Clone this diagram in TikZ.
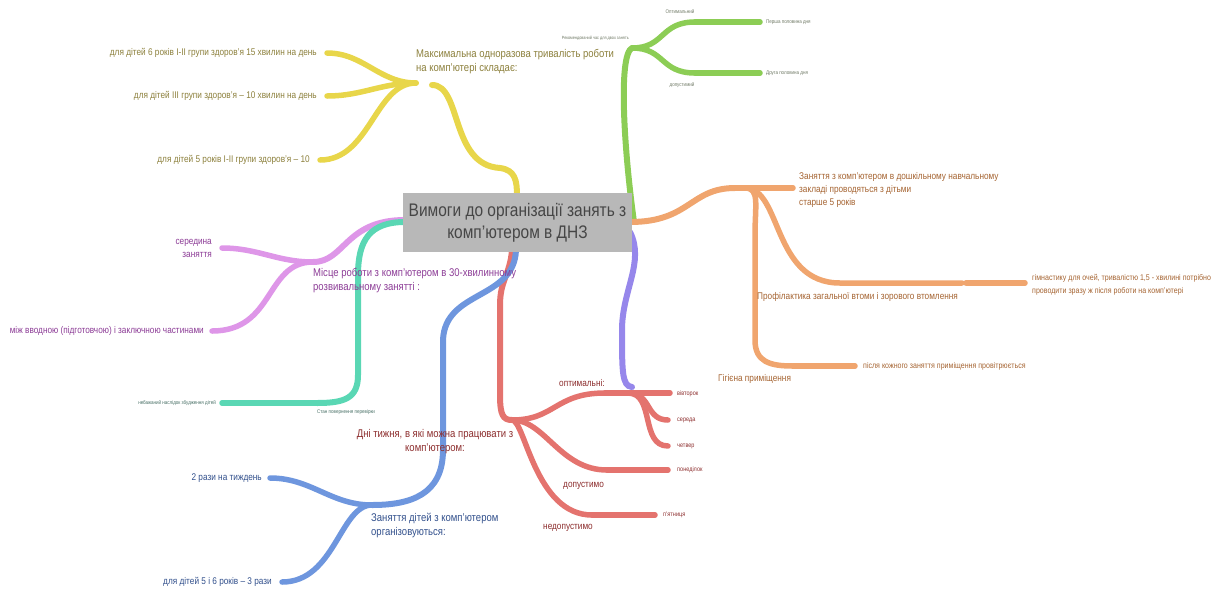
\documentclass[tikz,border=0pt]{standalone}
\usepackage{fontspec}
\setmainfont[FakeStretch=0.85]{Liberation Sans}
\usetikzlibrary{backgrounds}
\definecolor{yline}{RGB}{232,214,74}
\definecolor{ytext}{RGB}{140,128,60}
\definecolor{gline}{RGB}{140,205,85}
\definecolor{gtext}{RGB}{110,120,100}
\definecolor{oline}{RGB}{240,165,110}
\definecolor{otext}{RGB}{165,100,50}
\definecolor{vline}{RGB}{150,135,235}
\definecolor{pline}{RGB}{222,150,232}
\definecolor{ptext}{RGB}{140,60,150}
\definecolor{tline}{RGB}{90,215,180}
\definecolor{ttext}{RGB}{70,110,100}
\definecolor{rline}{RGB}{228,115,110}
\definecolor{rtext}{RGB}{140,45,45}
\definecolor{bline}{RGB}{110,150,222}
\definecolor{btext}{RGB}{50,80,140}
\definecolor{rootfill}{RGB}{184,184,184}
\definecolor{roottext}{RGB}{70,70,70}
\begin{document}
\begin{tikzpicture}[x=1pt,y=-1pt,
    mainbranch/.style={line width=6pt,line cap=round},
    subbranch/.style={line width=5.5pt,line cap=round},
    rootbox/.style={fill=rootfill,text=roottext,minimum width=229pt,minimum height=59pt,
      align=center,font=\fontsize{18.2}{22}\selectfont,inner sep=2pt},
    label/.style={font=\fontsize{11.2}{14}\selectfont,inner sep=1pt},
    leaf/.style={font=\fontsize{9.7}{13}\selectfont,inner sep=1pt},
    small/.style={font=\fontsize{8.3}{13}\selectfont,inner sep=1pt},
    dayleaf/.style={font=\fontsize{6.5}{8}\selectfont,inner sep=1pt},
    tiny/.style={font=\fontsize{5.3}{6}\selectfont,inner sep=1pt}]
  \useasboundingbox (0,0) rectangle (1222,595);

  \node[rootbox] (root) at (517.5,222.5) {Вимоги до організації занять з\\комп'ютером в ДНЗ};

  % hubs and leaf ends
  \coordinate (ytop) at (517,196);
  \coordinate (yhub) at (432,85);
  \coordinate (ysplit) at (416,83);
  \coordinate (y1) at (327,53);
  \coordinate (y2) at (327,96);
  \coordinate (y3) at (320,160);

  \coordinate (gstart) at (634,222);
  \coordinate (ghub) at (632,48);
  \coordinate (gopt) at (695,22);
  \coordinate (gadm) at (695,73);
  \coordinate (g1) at (760,22);
  \coordinate (g2) at (760,73);

  \coordinate (ostart) at (630,222);
  \coordinate (ohub) at (735,188);
  \coordinate (ohub2) at (745,188);
  \coordinate (o1) at (793,188);
  \coordinate (oprof) at (962,283);
  \coordinate (oprof2) at (966,283);
  \coordinate (ogym) at (1025,283);
  \coordinate (ohyg) at (793,366);
  \coordinate (ohyge) at (855,366);

  \coordinate (vstart) at (630,232);
  \coordinate (vend) at (632,387);

  \coordinate (pstart) at (405,220);
  \coordinate (phub) at (313,262);
  \coordinate (p1) at (222,248);
  \coordinate (p2) at (212,331);

  \coordinate (tstart) at (405,222);
  \coordinate (thub) at (317,403);
  \coordinate (tend) at (222,403);

  \coordinate (rstart) at (512,250);
  \coordinate (rhub) at (512,420);
  \coordinate (ropt) at (605,393);
  \coordinate (rsplit) at (628,393);
  \coordinate (rtue) at (670,393);
  \coordinate (rwed) at (668,420);
  \coordinate (rthu) at (668,446);
  \coordinate (rmon) at (607,470);
  \coordinate (rmone) at (668,470);
  \coordinate (rfri) at (592,515);
  \coordinate (rfrie) at (655,515);

  \coordinate (bstart) at (516,250);
  \coordinate (bhub) at (372,505);
  \coordinate (b1) at (270,478);
  \coordinate (b2) at (282,582);

  \begin{pgfonlayer}{background}
    % yellow
    \draw[mainbranch,yline] (yhub) .. controls (462,85) and (450,165) .. (500,168)
      .. controls (515,170) and (517,180) .. (ytop);
    \draw[subbranch,yline] (ysplit) to[out=180,in=0] (y1);
    \draw[subbranch,yline] (ysplit) to[out=180,in=0] (y2);
    \draw[subbranch,yline] (ysplit) .. controls (375,83) and (370,160) .. (y3);
    % green
    \draw[mainbranch,gline] (gstart) .. controls (624,150) and (618,55) .. (ghub);
    \draw[subbranch,gline] (ghub) .. controls (665,48) and (660,22) .. (gopt);
    \draw[subbranch,gline] (ghub) .. controls (665,48) and (660,73) .. (gadm);
    \draw[subbranch,gline] (gopt) -- (g1);
    \draw[subbranch,gline] (gadm) -- (g2);
    % orange
    \draw[mainbranch,oline] (ostart) .. controls (690,222) and (690,188) .. (ohub);
    \draw[subbranch,oline] (ohub) -- (o1);
    \draw[subbranch,oline] (ohub2) .. controls (782,188) and (772,283) .. (840,283) -- (oprof);
    \draw[subbranch,oline] (oprof2) -- (ogym);
    \draw[subbranch,oline] (ohub2) .. controls (760,188) and (755,205) .. (755,235) -- (755,340)
      .. controls (755,362) and (770,366) .. (ohyg);
    \draw[subbranch,oline] (ohyg) -- (ohyge);
    % violet
    \draw[mainbranch,vline] (vstart) .. controls (645,262) and (622,290) .. (622,330)
      .. controls (622,372) and (622,386) .. (vend);
    % pink
    \draw[mainbranch,pline] (phub) .. controls (345,262) and (345,220) .. (pstart);
    \draw[subbranch,pline] (phub) to[out=180,in=0] (p1);
    \draw[subbranch,pline] (phub) .. controls (265,262) and (275,331) .. (p2);
    % teal
    \draw[mainbranch,tline] (tstart) .. controls (370,222) and (358,240) .. (358,275) -- (358,375)
      .. controls (358,398) and (345,403) .. (thub);
    \draw[subbranch,tline] (thub) -- (tend);
    % red
    \draw[mainbranch,rline] (rstart) .. controls (510,275) and (500,280) .. (500,305) -- (500,395)
      .. controls (500,415) and (503,420) .. (rhub);
    \draw[subbranch,rline] (rhub) .. controls (555,420) and (555,393) .. (ropt);
    \draw[subbranch,rline] (ropt) -- (rtue);
    \draw[subbranch,rline] (rsplit) .. controls (652,393) and (645,420) .. (rwed);
    \draw[subbranch,rline] (rsplit) .. controls (655,393) and (640,446) .. (rthu);
    \draw[subbranch,rline] (rhub) .. controls (545,420) and (560,470) .. (rmon);
    \draw[subbranch,rline] (rmon) -- (rmone);
    \draw[subbranch,rline] (rhub) .. controls (525,420) and (535,515) .. (rfri);
    \draw[subbranch,rline] (rfri) -- (rfrie);
    % blue
    \draw[mainbranch,bline] (bstart) .. controls (514,300) and (445,290) .. (443,340) -- (443,450)
      .. controls (443,495) and (410,505) .. (bhub);
    \draw[subbranch,bline] (bhub) to[out=180,in=0] (b1);
    \draw[subbranch,bline] (bhub) .. controls (340,505) and (335,582) .. (b2);
  \end{pgfonlayer}

  % yellow texts
  \node[label,text=ytext,anchor=north west,align=left] (ylab) at (415,48)
    {Максимальна одноразова тривалість роботи\\на комп'ютері складає:};
  \node[leaf,text=ytext,anchor=east] (y1t) at (318,53) {для дітей 6 років І-ІІ групи здоров'я 15 хвилин на день};
  \node[leaf,text=ytext,anchor=east] (y2t) at (318,96) {для дітей ІІІ групи здоров'я – 10 хвилин на день};
  \node[leaf,text=ytext,anchor=east] (y3t) at (311,160) {для дітей 5 років І-ІІ групи здоров'я – 10};

  % green texts
  \node[tiny,font=\fontsize{4.5}{6}\selectfont,text=gtext,anchor=east] (glab) at (630,38) {Рекомендований час для двох занять};
  \node[tiny,text=gtext] (gopttext) at (680,12) {Оптимальний};
  \node[tiny,text=gtext] (gadmtext) at (682,85) {допустимий};
  \node[tiny,text=gtext,anchor=west] (g1t) at (765,22) {Перша половина дня};
  \node[tiny,text=gtext,anchor=west] (g2t) at (765,73) {Друга половина дня};

  % orange texts
  \node[leaf,text=otext,anchor=west,align=left] (o1t) at (798,190)
    {Заняття з комп'ютером в дошкільному навчальному\\закладі проводяться з дітьми\\старше 5 років};
  \node[leaf,text=otext,anchor=west] (oproft) at (756,297) {Профілактика загальної втоми і зорового втомлення};
  \node[small,text=otext,anchor=west,align=left] (ogymt) at (1031,285)
    {гімнастику для очей, тривалістю 1,5 - хвилині потрібно\\проводити зразу ж після роботи на комп'ютері};
  \node[leaf,text=otext,anchor=west] (ohygt) at (717,379) {Гігієна приміщення};
  \node[small,text=otext,anchor=west] (ohyget) at (862,366) {після кожного заняття приміщення провітрюється};

  % pink texts
  \node[label,text=ptext,anchor=north west,align=left] (plab) at (312,267)
    {Місце роботи з комп'ютером в 30-хвилинному\\розвивальному занятті :};
  \node[leaf,text=ptext,anchor=east,align=right] (p1t) at (213,248) {середина\\заняття};
  \node[leaf,text=ptext,anchor=east] (p2t) at (205,331) {між вводною (підготовчою) і заключною частинами};

  % teal texts
  \node[tiny,text=ttext,anchor=east] (tendt) at (217,403) {небажаний наслідок збудження дітей};
  \node[tiny,text=ttext,anchor=west] (tlab) at (316,412) {Стан повернення перевірки};

  % red texts
  \node[label,text=rtext,align=center] (rlab) at (435,442) {Дні тижня, в які можна працювати з\\комп'ютером:};
  \node[leaf,text=rtext,anchor=west] (roptt) at (558,383) {оптимальні:};
  \node[dayleaf,text=rtext,anchor=west] (rtuet) at (676,394) {вівторок};
  \node[dayleaf,text=rtext,anchor=west] (rwedt) at (676,420) {середа};
  \node[dayleaf,text=rtext,anchor=west] (rthut) at (676,446) {четвер};
  \node[dayleaf,text=rtext,anchor=west] (rmont) at (676,470) {понеділок};
  \node[dayleaf,text=rtext,anchor=west] (rfrit) at (662,515) {п'ятниця};
  \node[leaf,text=rtext,anchor=west] (rmonlab) at (562,486) {допустимо};
  \node[leaf,text=rtext,anchor=west] (rfrilab) at (542,528) {недопустимо};

  % blue texts
  \node[label,text=btext,anchor=north west,align=left] (blab) at (370,512)
    {Заняття дітей з комп'ютером\\організовуються:};
  \node[leaf,text=btext,anchor=east] (b1t) at (263,478) {2 рази на тиждень};
  \node[leaf,text=btext,anchor=east] (b2t) at (273,582) {для дітей 5 і 6 років – 3 рази};
\end{tikzpicture}
\end{document}
